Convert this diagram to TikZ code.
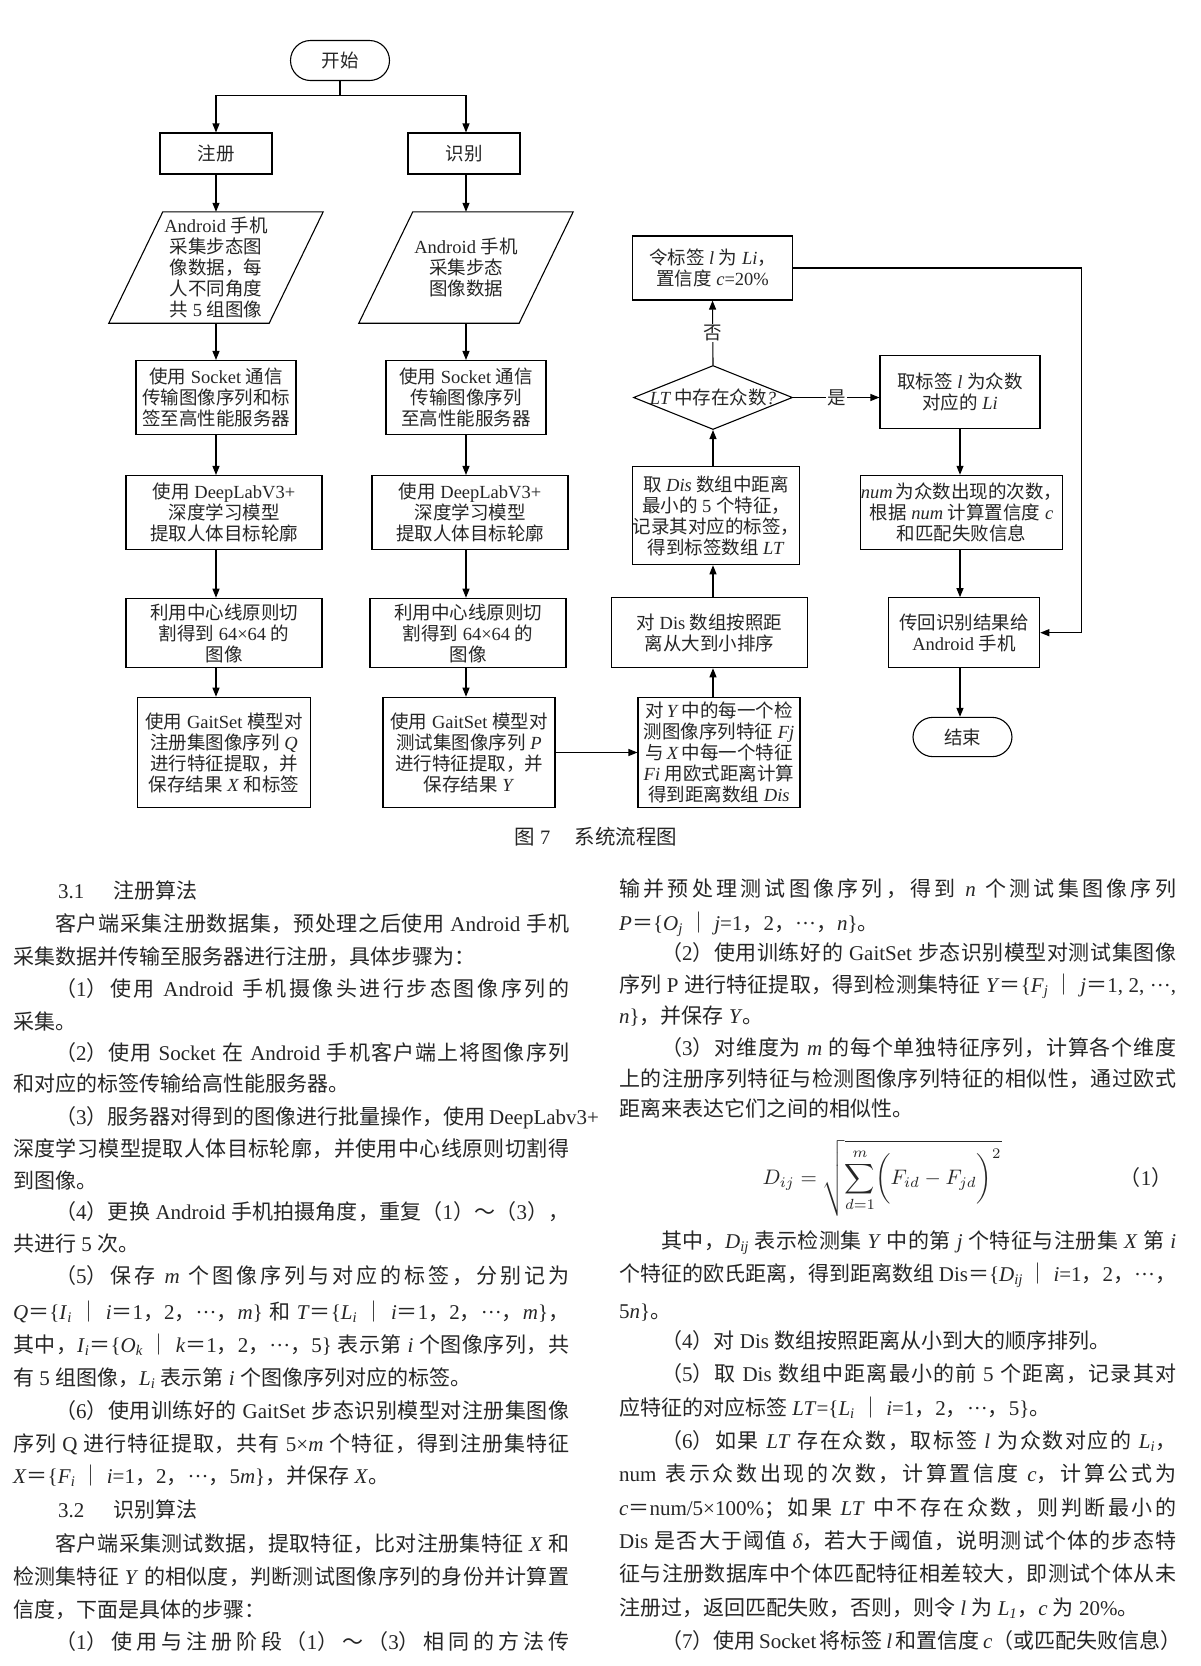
\documentclass[tikz,border=0pt]{standalone}
\usepackage{fontspec}
\setmainfont{Liberation Serif}
\newfontfamily\cjk{Noto Sans CJK SC}
\usetikzlibrary{arrows.meta,shapes.geometric}
\XeTeXinterchartokenstate=1
\newXeTeXintercharclass\cjkcls
\newcount\cjkcnt
\newcommand\cjkrange[2]{\cjkcnt=#1 \loop\XeTeXcharclass\cjkcnt=\cjkcls \advance\cjkcnt by 1 \ifnum\cjkcnt<#2 \repeat}
\cjkrange{"3000}{"3040}
\cjkrange{"4E00}{"A000}
\cjkrange{"FF00}{"FFF0}
\XeTeXinterchartoks 0 \cjkcls={\begingroup\cjk}
\XeTeXinterchartoks 4095 \cjkcls={\begingroup\cjk}
\XeTeXinterchartoks \cjkcls 0={\endgroup}
\XeTeXinterchartoks \cjkcls 4095={\endgroup}
\XeTeXinterchartoks \cjkcls \cjkcls={\hskip0pt plus 2pt\relax}
\newcommand\fl[1]{\hbox to 556pt{#1}}
\newcommand\fr[1]{\hbox to 557pt{#1}}
\newcommand\ind{\hskip42pt\relax}
\newcommand\ssub[2]{\textit{#1}\textsubscript{\textit{#2}}}
\newcommand\cdd{\hbox to 1em{\hss·\hss·\hss·\hss}}
\begin{document}
\begin{tikzpicture}[x=1pt,y=-1pt,
 fc/.style={font=\fontsize{18.5}{21}\selectfont,text=black!85},
 proc/.style={draw,fc,align=center,inner sep=0pt,line width=1.1pt},
 term/.style={proc,rounded corners=20pt,minimum width=99pt,minimum height=40pt},
 arr/.style={line width=1.1pt,-{Triangle[length=9pt,width=7pt]}},
 txt/.style={anchor=base west,inner sep=0pt,font=\fontsize{21}{25}\selectfont,text=black!85}]
\useasboundingbox[fill=white] (0,0) rectangle (1200,1666);
\node[term] (start) at (340,60.5) {开始};
\node[proc,minimum width=112pt,minimum height=41pt] (reg) at (216,153.5) {注册};
\node[proc,minimum width=112pt,minimum height=41pt] (rec) at (464,153.5) {识别};
\node[fc,align=center,minimum width=160pt,minimum height=111pt] (acqL) at (216,267.5) {Android 手机\\采集步态图\\像数据，每\\人不同角度\\共 5 组图像};
\node[fc,align=center,minimum width=160pt,minimum height=111pt] (acqR) at (466,267.5) {Android 手机\\采集步态\\图像数据};
\draw[line width=1.1pt] ([xshift=27pt]acqL.north west) -- ([xshift=27pt]acqL.north east) -- ([xshift=-27pt]acqL.south east) -- ([xshift=-27pt]acqL.south west) -- cycle;
\draw[line width=1.1pt] ([xshift=27pt]acqR.north west) -- ([xshift=27pt]acqR.north east) -- ([xshift=-27pt]acqR.south east) -- ([xshift=-27pt]acqR.south west) -- cycle;
\node[proc,minimum width=160pt,minimum height=74pt] (sockL) at (216,397.5) {使用 Socket 通信\\传输图像序列和标\\签至高性能服务器};
\node[proc,minimum width=160pt,minimum height=74pt] (sockR) at (466,397.5) {使用 Socket 通信\\传输图像序列\\至高性能服务器};
\node[proc,minimum width=196pt,minimum height=74pt] (deepL) at (224,512.5) {使用 DeepLabV3+\\深度学习模型\\提取人体目标轮廓};
\node[proc,minimum width=196pt,minimum height=74pt] (deepR) at (470,512.5) {使用 DeepLabV3+\\深度学习模型\\提取人体目标轮廓};
\node[proc,minimum width=196pt,minimum height=69.5pt] (cutL) at (224,633) {利用中心线原则切\\割得到 64×64 的\\图像};
\node[proc,minimum width=196pt,minimum height=69.5pt] (cutR) at (468,633) {利用中心线原则切\\割得到 64×64 的\\图像};
\node[proc,minimum width=172.5pt,minimum height=110.5pt] (gaitL) at (224,752.5) {使用 GaitSet 模型对\\注册集图像序列 \textit{Q}\\进行特征提取，并\\保存结果 \textit{X} 和标签};
\node[proc,minimum width=172pt,minimum height=110.5pt] (gaitR) at (469,752.5) {使用 GaitSet 模型对\\测试集图像序列 \textit{P}\\进行特征提取，并\\保存结果 \textit{Y}};
\node[proc,minimum width=162pt,minimum height=110.5pt] (distY) at (719,752.5) {对\,\textit{Y}\,中的每一个检\\测图像序列特征 \textit{Fj}\\与\,\textit{X}\,中每一个特征\\\textit{Fi} 用欧式距离计算\\得到距离数组 \textit{Dis}};
\node[proc,minimum width=196.5pt,minimum height=70pt] (sortD) at (709.5,632.7) {对 Dis 数组按照距\\离从大到小排序};
\node[proc,minimum width=167.5pt,minimum height=98pt] (topk) at (716,515.7) {取 \textit{Dis} 数组中距离\\最小的 5 个特征，\\记录其对应的标签，\\得到标签数组 \textit{LT}};
\node[draw,diamond,fc,line width=1.1pt,minimum width=159pt,minimum height=64pt,inner sep=0pt] (mode) at (713,397.5) {\makebox[0pt]{\textit{LT}\,中存在众数\textit{?}}};
\node[proc,minimum width=160pt,minimum height=64pt] (setL) at (712.5,268) {令标签 \textit{l} 为 \textit{Li}，\\置信度 \textit{c}=20\%};
\node[proc,minimum width=160pt,minimum height=73.3pt] (pick) at (960,392) {取标签 \textit{l} 为众数\\对应的 \textit{Li}};
\node[proc,minimum width=196pt,minimum height=74pt] (num) at (961.5,512.3) {\textit{num}\,为众数出现的次数，\\根据 \textit{num} 计算置信度 \textit{c}\\和匹配失败信息};
\node[proc,minimum width=151.4pt,minimum height=70pt] (back) at (964,632.7) {传回识别结果给\\Android 手机};
\node[term,minimum height=39.3pt] (stop) at (962.5,737) {结束};
\coordinate (split) at (340,95.5);
\coordinate (turn) at (1081.5,268);
\draw[line width=1.1pt] (start.south) -- (split);
\draw[arr] (split) -| (reg.north);
\draw[arr] (split) -| (rec.north -| acqR);
\draw[arr] (reg.south) -- (acqL.north);
\draw[arr] (rec.south -| acqR) -- (acqR.north);
\draw[arr] (acqL.south) -- (sockL.north);
\draw[arr] (acqR.south) -- (sockR.north);
\draw[arr] (sockL.south) -- (sockL.south |- deepL.north);
\draw[arr] (sockR.south) -- (sockR.south |- deepR.north);
\draw[arr] (deepL.south -| sockL) -- (cutL.north -| sockL);
\draw[arr] (deepR.south -| sockR) -- (cutR.north -| sockR);
\draw[arr] (cutL.south -| sockL) -- (gaitL.north -| sockL);
\draw[arr] (cutR.south -| sockR) -- (gaitR.north -| sockR);
\draw[arr] (gaitR.east) -- (distY.west);
\draw[arr] (distY.north -| mode) -- (sortD.south -| mode);
\draw[arr] (sortD.north -| mode) -- (topk.south -| mode);
\draw[arr] (topk.north -| mode) -- (mode.south);
\draw[arr] (mode.north) -- node[fc,fill=white,inner sep=1pt] (no) {否} (setL.south);
\draw[arr] (mode.east) -- node[fc,fill=white,inner sep=1pt] (yes) {是} (mode.east -| pick.west);
\draw[arr] (pick.south) -- (pick.south |- num.north);
\draw[arr] (num.south -| pick) -- (back.north -| pick);
\draw[arr] (back.south -| pick) -- (stop.north -| pick);
\draw[arr] (setL.east) -- (turn) |- (back.east);
\node[font=\fontsize{20.5}{24}\selectfont,text=black!85] (cap) at (596,836.5) {图 7\hskip1.2em 系统流程图};
\node[txt] (l0) at (58,898) {3.1\hskip1.4em 注册算法};
\node[txt] (l1) at (13,931) {\fl{\ind 客户端采集注册数据集，预处理之后使用 Android 手机}};
\node[txt] (l2) at (13,964.5) {采集数据并传输至服务器进行注册，具体步骤为：};
\node[txt] (l3) at (13,996) {\fl{\ind （1）使用 Android 手机摄像头进行步态图像序列的}};
\node[txt] (l4) at (13,1029.5) {采集。};
\node[txt] (l5) at (13,1060.5) {\fl{\ind （2）使用 Socket 在 Android 手机客户端上将图像序列}};
\node[txt] (l6) at (13,1091) {和对应的标签传输给高性能服务器。};
\node[txt] (l7) at (13,1124.5) {\fl{\ind （3）服务器对得到的图像进行批量操作，使用 DeepLabv3+}};
\node[txt] (l8) at (13,1156) {\fl{深度学习模型提取人体目标轮廓，并使用中心线原则切割得}};
\node[txt] (l9) at (13,1188) {到图像。};
\node[txt] (l10) at (13,1219.5) {\fl{\ind （4）更换 Android 手机拍摄角度，重复（1）～（3），}};
\node[txt] (l11) at (13,1251) {共进行 5 次。};
\node[txt] (l12) at (13,1283) {\fl{\ind （5）保存 \textit{m} 个图像序列与对应的标签，分别记为}};
\node[txt] (l13) at (13,1319) {\fl{\textit{Q}＝\{\ssub{I}{i} ｜ \textit{i}＝1，2，\cdd，\textit{m}\} 和 \textit{T}＝\{\ssub{L}{i} ｜ \textit{i}＝1，2，\cdd，\textit{m}\}，}};
\node[txt] (l14) at (13,1352) {\fl{其中，\ssub{I}{i}＝\{\ssub{O}{k} ｜ \textit{k}＝1，2，\cdd，5\} 表示第 \textit{i} 个图像序列，共}};
\node[txt] (l15) at (13,1385) {有 5 组图像，\ssub{L}{i} 表示第 \textit{i} 个图像序列对应的标签。};
\node[txt] (l16) at (13,1418) {\fl{\ind （6）使用训练好的 GaitSet 步态识别模型对注册集图像}};
\node[txt] (l17) at (13,1451) {\fl{序列 Q 进行特征提取，共有 5×\textit{m} 个特征，得到注册集特征}};
\node[txt] (l18) at (13,1483) {\textit{X}＝\{\ssub{F}{i} ｜ \textit{i}=1，2，\cdd，5\textit{m}\}，并保存 \textit{X}。};
\node[txt] (l19) at (58,1517) {3.2\hskip1.4em 识别算法};
\node[txt] (l20) at (13,1551) {\fl{\ind 客户端采集测试数据，提取特征，比对注册集特征 \textit{X} 和}};
\node[txt] (l21) at (13,1584) {\fl{检测集特征 \textit{Y} 的相似度，判断测试图像序列的身份并计算置}};
\node[txt] (l22) at (13,1617) {信度，下面是具体的步骤：};
\node[txt] (l23) at (13,1649.5) {\fl{\ind （1）使用与注册阶段（1）～（3）相同的方法传}};
\node[txt] (r0) at (619,896) {\fr{输并预处理测试图像序列，得到 \textit{n} 个测试集图像序列}};
\node[txt] (r1) at (619,930) {\textit{P}＝\{\ssub{O}{j} ｜ \textit{j}=1，2，\cdd，\textit{n}\}。};
\node[txt] (r2) at (619,960) {\fr{\ind （2）使用训练好的 GaitSet 步态识别模型对测试集图像}};
\node[txt] (r3) at (619,992) {\fr{序列 P 进行特征提取，得到检测集特征 \textit{Y}＝\{\ssub{F}{j} ｜ \textit{j}＝1, 2, \cdd,}};
\node[txt] (r4) at (619,1023.5) {\textit{n}\}，并保存 \textit{Y}。};
\node[txt] (r5) at (619,1055.5) {\fr{\ind （3）对维度为 \textit{m} 的每个单独特征序列，计算各个维度}};
\node[txt] (r6) at (619,1086) {\fr{上的注册序列特征与检测图像序列特征的相似性，通过欧式}};
\node[txt] (r7) at (619,1116) {距离来表达它们之间的相似性。};
\node[font=\fontsize{10}{12}\selectfont,text=black!85,scale=2.1,transform shape] (eq) at (882,1178) {$\displaystyle D_{ij}=\sqrt{\sum_{d=1}^{m}\biggl(F_{id}-F_{jd}\biggr)^{2}}$};
\node[anchor=east,font=\fontsize{21}{25}\selectfont,text=black!85] (eqno) at (1176,1178) {（1）};
\node[txt] (r8) at (619,1248) {\fr{\ind 其中，\ssub{D}{ij} 表示检测集 \textit{Y} 中的第 \textit{j} 个特征与注册集 \textit{X} 第 \textit{i}}};
\node[txt] (r9) at (619,1281.5) {\fr{个特征的欧氏距离，得到距离数组 Dis＝\{\ssub{D}{ij} ｜ \textit{i}=1，2，\cdd，}};
\node[txt] (r10) at (619,1318) {5\textit{n}\}。};
\node[txt] (r11) at (619,1348) {\ind （4）对 Dis 数组按照距离从小到大的顺序排列。};
\node[txt] (r12) at (619,1381) {\fr{\ind （5）取 Dis 数组中距离最小的前 5 个距离，记录其对}};
\node[txt] (r13) at (619,1415) {应特征的对应标签 \textit{LT}=\{\ssub{L}{i} ｜ \textit{i}=1，2，\cdd，5\}。};
\node[txt] (r14) at (619,1448) {\fr{\ind （6）如果 \textit{LT} 存在众数，取标签 \textit{l} 为众数对应的 \ssub{L}{i}，}};
\node[txt] (r15) at (619,1481) {\fr{num 表示众数出现的次数，计算置信度 \textit{c}，计算公式为}};
\node[txt] (r16) at (619,1515) {\fr{\textit{c}＝num/5×100\%；如果 \textit{LT} 中不存在众数，则判断最小的}};
\node[txt] (r17) at (619,1548) {\fr{Dis 是否大于阈值 \textit{δ}，若大于阈值，说明测试个体的步态特}};
\node[txt] (r18) at (619,1581) {\fr{征与注册数据库中个体匹配特征相差较大，即测试个体从未}};
\node[txt] (r19) at (619,1615) {注册过，返回匹配失败，否则，则令 \textit{l} 为 \ssub{L}{1}，\textit{c} 为 20\%。};
\node[txt] (r20) at (619,1648) {\fr{\ind （7）使用 Socket 将标签 \textit{l} 和置信度 \textit{c}（或匹配失败信息）}};
\end{tikzpicture}
\end{document}
